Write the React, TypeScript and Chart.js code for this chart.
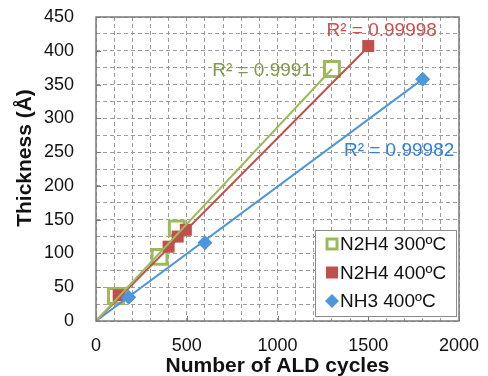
import React, { useEffect, useRef } from "react";
import { Chart, registerables } from "chart.js";

Chart.register(...registerables);

// ---- data ----
const seriesNames = ["N2H4 300ºC", "N2H4 400ºC", "NH3 400ºC"];

const n2h4_300_x = [110, 350, 445, 1300];
const n2h4_300_y = [37, 95, 137, 373];

const n2h4_400_x = [125, 400, 450, 495, 1500];
const n2h4_400_y = [38, 110, 125, 135, 407];

const nh3_400_x = [180, 600, 1800];
const nh3_400_y = [35, 116, 358];

const trend300_x = [0, 1300];
const trend300_y = [0, 373];
const trend400_x = [0, 1500];
const trend400_y = [0, 406];
const trendNH3_x = [0, 1800];
const trendNH3_y = [0, 358];

const r2Labels = ["R² = 0.9991", "R² = 0.99998", "R² = 0.99982"];
const r2LabelX = [915, 1574, 1670];
const r2LabelY = [370, 429, 252];

const xMin = 0, xMax = 2000, xMinorStep = 100, xMajorStep = 500;
const yMin = 0, yMax = 450, yMinorStep = 25, yMajorStep = 50;

const xTitle = "Number of ALD cycles";
const yTitle = "Thickness (Å)";

// ---- styles ----
const GREEN = "#9BBB59";
const RED = "#C0504D";
const BLUE = "#4F97DC";
const GREEN_TXT = "#7F9A48";
const RED_TXT = "#C8504D";
const BLUE_TXT = "#2F7FE0";
const GRID = "#9c9c9c";
const FONT = "'Liberation Sans', Arial, sans-serif";

const pts = (xs: number[], ys: number[]) => xs.map((x, i) => ({ x, y: ys[i] }));

const overlayPlugin = {
  id: "overlay",
  afterDatasetsDraw(chart: any) {
    const { ctx, chartArea: a, scales } = chart;
    const xs = scales.x, ys = scales.y;
    ctx.save();
    // frame
    ctx.strokeStyle = "#7a7a7a";
    ctx.lineWidth = 1.5;
    ctx.setLineDash([]);
    ctx.strokeRect(a.left, a.top, a.right - a.left, a.bottom - a.top);
    // inward major ticks
    ctx.lineWidth = 1;
    ctx.beginPath();
    for (let v = xMin; v <= xMax; v += xMajorStep) {
      const px = Math.round(xs.getPixelForValue(v)) + 0.5;
      ctx.moveTo(px, a.bottom);
      ctx.lineTo(px, a.bottom - 5);
    }
    for (let v = yMin; v <= yMax; v += yMajorStep) {
      const py = Math.round(ys.getPixelForValue(v)) + 0.5;
      ctx.moveTo(a.left, py);
      ctx.lineTo(a.left + 5, py);
    }
    ctx.stroke();

    // R² labels
    const colors = [GREEN_TXT, RED_TXT, BLUE_TXT];
    ctx.font = `19px ${FONT}`;
    ctx.textAlign = "center";
    ctx.textBaseline = "middle";
    r2Labels.forEach((t, i) => {
      ctx.fillStyle = colors[i];
      ctx.fillText(t, xs.getPixelForValue(r2LabelX[i]), ys.getPixelForValue(r2LabelY[i]));
    });

    // legend box
    const lw = 141, lh = 86;
    const lx = a.right - 3 - lw, ly = a.bottom - 5 - lh;
    ctx.fillStyle = "#ffffff";
    ctx.fillRect(lx, ly, lw, lh);
    ctx.strokeStyle = "#8c8c8c";
    ctx.lineWidth = 1;
    ctx.strokeRect(lx + 0.5, ly + 0.5, lw, lh);
    ctx.font = `19px ${FONT}`;
    ctx.textAlign = "left";
    ctx.textBaseline = "middle";
    seriesNames.forEach((name, i) => {
      const cy = ly + 14 + i * 28.5;
      const mx = lx + 17;
      if (i === 0) {
        ctx.strokeStyle = GREEN;
        ctx.lineWidth = 3;
        ctx.fillStyle = "#fff";
        ctx.fillRect(mx - 5, cy - 5, 10, 10);
        ctx.strokeRect(mx - 5, cy - 5, 10, 10);
      } else if (i === 1) {
        ctx.fillStyle = RED;
        ctx.fillRect(mx - 6, cy - 6, 12, 12);
      } else {
        ctx.fillStyle = BLUE;
        ctx.beginPath();
        ctx.moveTo(mx, cy - 7);
        ctx.lineTo(mx + 7, cy);
        ctx.lineTo(mx, cy + 7);
        ctx.lineTo(mx - 7, cy);
        ctx.closePath();
        ctx.fill();
      }
      ctx.fillStyle = "#111";
      ctx.fillText(name, lx + 25, cy + 1);
    });

    // y title
    ctx.save();
    ctx.translate(25, (a.top + a.bottom) / 2 - 11);
    ctx.rotate(-Math.PI / 2);
    ctx.font = `bold 21px ${FONT}`;
    ctx.fillStyle = "#111";
    ctx.textAlign = "center";
    ctx.textBaseline = "middle";
    ctx.fillText(yTitle, 0, 0);
    ctx.restore();

    ctx.restore();
  },
};

export default function App() {
  const ref = useRef<HTMLCanvasElement>(null);
  useEffect(() => {
    document.body.style.margin = "0";
    const canvas = ref.current!;
    const chart = new Chart(canvas, {
      type: "scatter",
      data: {
        datasets: [
          {
            label: "trend300",
            data: pts(trend300_x, trend300_y),
            showLine: true,
            borderColor: GREEN,
            borderWidth: 2,
            pointRadius: 0,
            order: 0,
          },
          {
            label: "trend400",
            data: pts(trend400_x, trend400_y),
            showLine: true,
            borderColor: RED,
            borderWidth: 2,
            pointRadius: 0,
            order: 0,
          },
          {
            label: "trendNH3",
            data: pts(trendNH3_x, trendNH3_y),
            showLine: true,
            borderColor: BLUE,
            borderWidth: 2,
            pointRadius: 0,
            order: 0,
          },
          {
            label: seriesNames[2],
            data: pts(nh3_400_x, nh3_400_y),
            pointStyle: "rectRot",
            pointRadius: 7.5,
            backgroundColor: BLUE,
            borderColor: BLUE,
            borderWidth: 0,
            order: 1,
          },
          {
            label: seriesNames[1],
            data: pts(n2h4_400_x, n2h4_400_y),
            pointStyle: "rect",
            pointRadius: 8.5,
            backgroundColor: RED,
            borderColor: RED,
            borderWidth: 0,
            order: 2,
          },
          {
            label: seriesNames[0],
            data: pts(n2h4_300_x, n2h4_300_y),
            pointStyle: "rect",
            pointRadius: 10.5,
            backgroundColor: "#ffffff",
            borderColor: GREEN,
            borderWidth: 3,
            order: 3,
          },
        ],
      },
      options: {
        animation: false,
        responsive: false,
        maintainAspectRatio: false,
        layout: { padding: { top: 17, right: 29, left: 0, bottom: 0 } },
        plugins: { legend: { display: false }, tooltip: { enabled: false } },
        scales: {
          x: {
            type: "linear",
            min: xMin,
            max: xMax,
            afterFit: (s: any) => {
              s.height = 55;
              s.paddingLeft = 0;
              s.paddingRight = 0;
              s.paddingTop = 0;
              s.paddingBottom = 0;
            },
            afterBuildTicks: (s: any) => {
              const t = [];
              for (let v = xMin; v <= xMax; v += xMinorStep) t.push({ value: v });
              s.ticks = t;
            },
            ticks: {
              autoSkip: false,
              maxRotation: 0,
              padding: 14,
              color: "#111",
              font: { family: FONT, size: 18 },
              callback: (v: any) => (Number(v) % xMajorStep === 0 ? String(v) : ""),
            },
            grid: { color: GRID, lineWidth: 1, drawTicks: false },
            border: { display: false, dash: [4, 3] },
            title: {
              display: true,
              text: xTitle,
              color: "#111",
              font: { family: FONT, size: 21, weight: "bold", lineHeight: 1 },
              padding: { top: 0, bottom: -1 },
            },
          },
          y: {
            type: "linear",
            min: yMin,
            max: yMax,
            afterFit: (s: any) => {
              s.width = 96;
              s.paddingLeft = 0;
              s.paddingRight = 0;
              s.paddingTop = 0;
              s.paddingBottom = 0;
            },
            afterBuildTicks: (s: any) => {
              const t = [];
              for (let v = yMin; v <= yMax; v += yMinorStep) t.push({ value: v });
              s.ticks = t;
            },
            ticks: {
              autoSkip: false,
              padding: 22,
              color: "#111",
              font: { family: FONT, size: 18 },
              callback: (v: any) => (Number(v) % yMajorStep === 0 ? String(v) : ""),
            },
            grid: { color: GRID, lineWidth: 1, drawTicks: false },
            border: { display: false, dash: [4, 3] },
          },
        },
      },
      plugins: [overlayPlugin],
    });
    return () => chart.destroy();
  }, []);
  return (
    <div style={{ width: 488, height: 376 }}>
      <canvas ref={ref} width={488} height={376} style={{ display: "block" }} />
    </div>
  );
}
